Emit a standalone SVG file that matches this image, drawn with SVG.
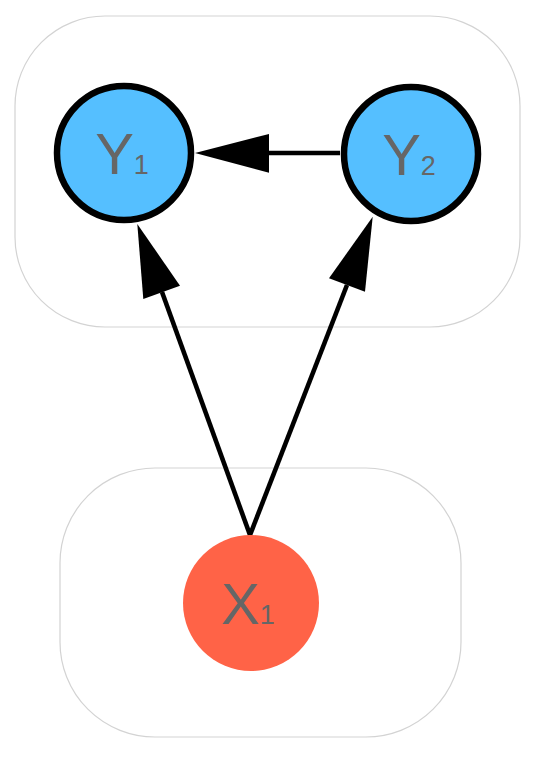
<svg xmlns="http://www.w3.org/2000/svg" width="542" height="760" viewBox="0 0 542 760">
<style>
.cluster{fill:none;stroke:#d3d3d3;stroke-width:1.2}
.y{fill:#55BFFF;stroke:#000;stroke-width:6.5}
.x{fill:#FF6347;stroke:none}
.lbl{font-family:"Liberation Sans",Arial,Helvetica,sans-serif;fill:#666;font-size:58px;text-anchor:middle}
.sub{font-size:27px}
.edge{stroke:#000;stroke-width:4.6;fill:none}
.head{fill:#000;stroke:none}
</style>
<rect width="542" height="760" fill="#fff"/>
<g id="cluster_top"><rect class="cluster" x="15" y="16" width="505" height="311" rx="90" ry="90"/></g>
<g id="cluster_bottom"><rect class="cluster" x="60" y="468" width="401" height="269" rx="95" ry="95"/></g>
<g id="edges">
<line class="edge" x1="340" y1="153" x2="266" y2="153"/>
<polygon class="head" points="195,153 269,134 269,172.7"/>
<line class="edge" x1="250" y1="535" x2="162" y2="292"/>
<polygon class="head" points="137.3,224 143.3,299 180,285.7"/>
<line class="edge" x1="250" y1="535" x2="347" y2="285"/>
<polygon class="head" points="372.7,216.7 329,278.3 365,291.7"/>
</g>
<g id="Y1"><circle class="y" cx="124" cy="153" r="67"/><text class="lbl" x="122" y="174">Y<tspan class="sub">1</tspan></text></g>
<g id="Y2"><circle class="y" cx="411" cy="154" r="67"/><text class="lbl" x="409" y="175">Y<tspan class="sub">2</tspan></text></g>
<g id="X1"><circle class="x" cx="251" cy="603" r="68"/><text class="lbl" x="248" y="624">X<tspan class="sub">1</tspan></text></g>
</svg>
